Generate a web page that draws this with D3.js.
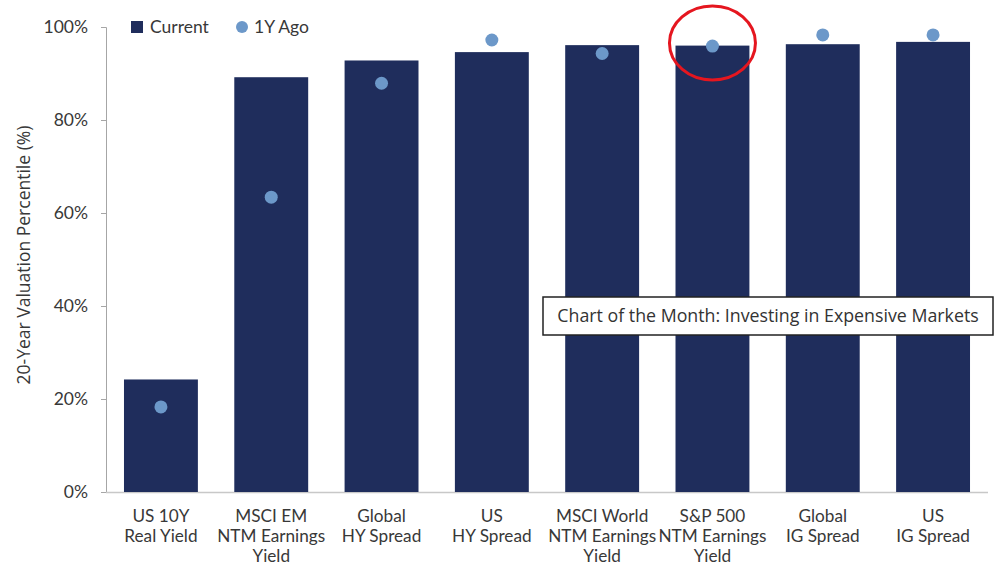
<!DOCTYPE html>
<html><head><meta charset="utf-8">
<script src="https://cdn.jsdelivr.net/npm/d3@7"></script>
<style>
body{margin:0;background:#fff;}
svg{display:block;font-family:Lato,"Open Sans",sans-serif;}
</style></head>
<body><div id="chart"></div>
<script>
const categories = [
  ["US 10Y","Real Yield"],
  ["MSCI EM","NTM Earnings","Yield"],
  ["Global","HY Spread"],
  ["US","HY Spread"],
  ["MSCI World","NTM Earnings","Yield"],
  ["S&P 500","NTM Earnings","Yield"],
  ["Global","IG Spread"],
  ["US","IG Spread"]
];
const current = [24.2, 89.2, 92.8, 94.6, 96.1, 96.0, 96.3, 96.8];
const yearAgo = [18.3, 63.4, 87.9, 97.2, 94.3, 95.9, 98.3, 98.3];
const yTicks = [0, 20, 40, 60, 80, 100];
const seriesNames = ["Current", "1Y Ago"];
const highlightIndex = 5;
const annotation = "Chart of the Month: Investing in Expensive Markets";

const W = 996, H = 566;
const navy = "#1f2d5c", light = "#6c98c9", textC = "#383838";
const svg = d3.select("#chart").append("svg").attr("width", W).attr("height", H);

const x = d3.scaleBand().domain(d3.range(categories.length)).range([106, 988])
  .paddingInner(0.33).paddingOuter(0.163);
const y = d3.scaleLinear().domain([0, 100]).range([492, 27]);

// y axis
const yAxis = svg.append("g").attr("transform", "translate(106,0)")
  .call(d3.axisLeft(y).tickValues(yTicks).tickFormat(d => d + "%").tickSizeOuter(0).tickSize(5).tickPadding(13));
yAxis.select(".domain").attr("stroke", "#a6a6a6");
yAxis.selectAll(".tick line").attr("stroke", "#a6a6a6");
yAxis.selectAll("text").attr("font-size", 17.5).attr("fill", textC).attr("font-family", "Lato");

// x axis line
svg.append("line").attr("x1", 106).attr("x2", 988).attr("y1", 492.5).attr("y2", 492.5)
  .attr("stroke", "#c8c8c8").attr("stroke-width", 1.5);

// bars
svg.append("g").selectAll("rect").data(current).join("rect")
  .attr("x", (d, i) => x(i)).attr("width", x.bandwidth())
  .attr("y", d => y(d)).attr("height", d => y(0) - y(d))
  .attr("fill", navy);

// dots
svg.append("g").selectAll("circle").data(yearAgo).join("circle")
  .attr("cx", (d, i) => x(i) + x.bandwidth() / 2).attr("cy", d => y(d))
  .attr("r", 6.5).attr("fill", light);

// x labels
const xl = svg.append("g").selectAll("text").data(categories).join("text")
  .attr("x", (d, i) => x(i) + x.bandwidth() / 2).attr("y", 522)
  .attr("text-anchor", "middle").attr("font-size", 17.2).attr("fill", textC);
xl.selectAll("tspan").data(d => d).join("tspan")
  .attr("x", function(){ return d3.select(this.parentNode).attr("x"); })
  .attr("dy", (d, i) => i === 0 ? 0 : 20).text(d => d);

// y title
svg.append("text").attr("transform", "translate(30,255) rotate(-90)")
  .attr("text-anchor", "middle").attr("font-size", 17.5).attr("fill", textC)
  .attr("font-family", "'Open Sans',sans-serif")
  .text("20-Year Valuation Percentile (%)");

// legend
const lg = svg.append("g");
lg.append("rect").attr("x", 131).attr("y", 21).attr("width", 12).attr("height", 12).attr("fill", navy);
lg.append("text").attr("x", 150).attr("y", 33).attr("font-size", 17.5).attr("fill", textC).text(seriesNames[0]);
lg.append("circle").attr("cx", 242).attr("cy", 27).attr("r", 6).attr("fill", light);
lg.append("text").attr("x", 254).attr("y", 33).attr("font-size", 17.5).attr("fill", textC).text(seriesNames[1]);

// red highlight ellipse
const hx = x(highlightIndex) + x.bandwidth() / 2;
svg.append("ellipse").attr("cx", hx).attr("cy", y(yearAgo[highlightIndex]) - 3)
  .attr("rx", 43).attr("ry", 37).attr("fill", "none").attr("stroke", "#e5161f").attr("stroke-width", 3);

// annotation box
svg.append("rect").attr("x", 543).attr("y", 297).attr("width", 450).attr("height", 38)
  .attr("fill", "#fff").attr("stroke", "#222").attr("stroke-width", 1.5);
svg.append("text").attr("x", 768).attr("y", 322).attr("text-anchor", "middle")
  .attr("font-family", "'Open Sans',sans-serif").attr("font-size", 17.8).attr("fill", "#333")
  .text(annotation);
</script></body></html>
